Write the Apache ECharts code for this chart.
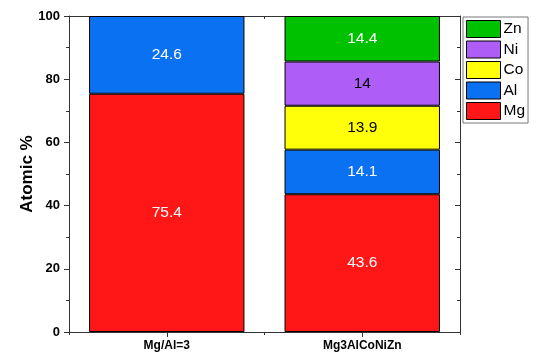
<!DOCTYPE html>
<html>
<head>
<meta charset="utf-8">
<script src="https://cdn.jsdelivr.net/npm/echarts@6/dist/echarts.min.js"></script>
<style>
  html, body { margin: 0; padding: 0; background: #fff; }
  #chart { width: 536px; height: 358px; }
</style>
</head>
<body>
<div id="chart"></div>
<script>
// Samples and composition (atomic %)
const categories = ['Mg/Al=3', 'Mg3AlCoNiZn'];
const mgValues = [75.4, 43.6];
const alValues = [24.6, 14.1];
const coValues = [null, 13.9];
const niValues = [null, 14];
const znValues = [null, 14.4];
const yTicks = [0, 20, 40, 60, 80, 100];

const FONT = 'Liberation Sans, Arial, sans-serif';
const AXIS_COLOR = '#333';

function stackSeries(name, data, color, labelColor) {
  return {
    name: name,
    type: 'bar',
    stack: 'total',
    xAxisIndex: 0,
    yAxisIndex: 0,
    barWidth: '79.5%',
    data: data.map(v => (v === null ? '-' : v)),
    itemStyle: { color: color, borderColor: '#000', borderWidth: 1 },
    label: {
      show: true,
      position: 'inside',
      color: labelColor,
      fontFamily: FONT,
      fontSize: 15.5,
      formatter: p => String(p.value)
    }
  };
}

const chart = echarts.init(document.getElementById('chart'), null, { renderer: 'canvas' });

const baseX = {
  type: 'category',
  data: categories,
  boundaryGap: true
};

chart.setOption({
  animation: false,
  backgroundColor: '#fff',
  grid: { left: 69, right: 76, top: 16, bottom: 26, containLabel: false },
  legend: {
    orient: 'vertical',
    left: 463,
    top: 17,
    data: ['Zn', 'Ni', 'Co', 'Al', 'Mg'],
    itemWidth: 34,
    itemHeight: 17,
    itemGap: 2.5,
    padding: [3, 3, 3, 3],
    borderColor: '#777',
    borderWidth: 1,
    icon: 'rect',
    itemStyle: { borderColor: '#000', borderWidth: 1 },
    textStyle: { fontFamily: FONT, fontSize: 15.5, color: '#000', padding: [0, 0, 0, -2] }
  },
  xAxis: [
    Object.assign({}, baseX, {
      position: 'bottom',
      axisLine: { show: true, lineStyle: { color: AXIS_COLOR, width: 1 } },
      axisTick: { show: true, alignWithLabel: true, length: 5, lineStyle: { color: AXIS_COLOR } },
      axisLabel: { fontFamily: FONT, fontSize: 12, fontWeight: 'bold', color: '#000', margin: 8 },
      splitLine: { show: false }
    }),
    Object.assign({}, baseX, {
      position: 'bottom',
      axisLine: { show: false },
      axisTick: { show: true, length: 3, lineStyle: { color: AXIS_COLOR } },
      axisLabel: { show: false },
      splitLine: { show: false }
    }),
    Object.assign({}, baseX, {
      position: 'top',
      axisLine: { show: true, lineStyle: { color: AXIS_COLOR, width: 1 } },
      axisTick: { show: true, inside: true, alignWithLabel: true, length: 5, lineStyle: { color: AXIS_COLOR } },
      axisLabel: { show: false },
      splitLine: { show: false }
    }),
    Object.assign({}, baseX, {
      position: 'top',
      axisLine: { show: false },
      axisTick: { show: true, inside: true, length: 3, lineStyle: { color: AXIS_COLOR } },
      axisLabel: { show: false },
      splitLine: { show: false }
    })
  ],
  yAxis: [
    {
      type: 'value',
      position: 'left',
      min: yTicks[0],
      max: yTicks[yTicks.length - 1],
      interval: yTicks[1] - yTicks[0],
      name: 'Atomic %',
      nameLocation: 'middle',
      nameRotate: 90,
      nameGap: 33,
      nameMoveOverlap: false,
      nameTextStyle: { fontFamily: FONT, fontSize: 17, fontWeight: 'bold', color: '#000' },
      axisLine: { show: true, lineStyle: { color: AXIS_COLOR, width: 1 } },
      axisTick: { show: true, length: 5, lineStyle: { color: AXIS_COLOR } },
      minorTick: { show: true, splitNumber: 2, length: 3, lineStyle: { color: AXIS_COLOR } },
      axisLabel: { fontFamily: FONT, fontSize: 13, fontWeight: 'bold', color: '#000', margin: 9 },
      splitLine: { show: false }
    },
    {
      type: 'value',
      position: 'right',
      min: yTicks[0],
      max: yTicks[yTicks.length - 1],
      interval: yTicks[1] - yTicks[0],
      axisLine: { show: true, lineStyle: { color: AXIS_COLOR, width: 1 } },
      axisTick: { show: true, inside: true, length: 5, lineStyle: { color: AXIS_COLOR } },
      minorTick: { show: true, splitNumber: 2, length: 3, lineStyle: { color: AXIS_COLOR } },
      axisLabel: { show: false },
      splitLine: { show: false }
    }
  ],
  series: [
    stackSeries('Mg', mgValues, '#FF1717', '#fff'),
    stackSeries('Al', alValues, '#0A72F2', '#fff'),
    stackSeries('Co', coValues, '#FFFF0A', '#000'),
    stackSeries('Ni', niValues, '#AE5EF6', '#000'),
    stackSeries('Zn', znValues, '#00C100', '#fff')
  ]
});
</script>
</body>
</html>
